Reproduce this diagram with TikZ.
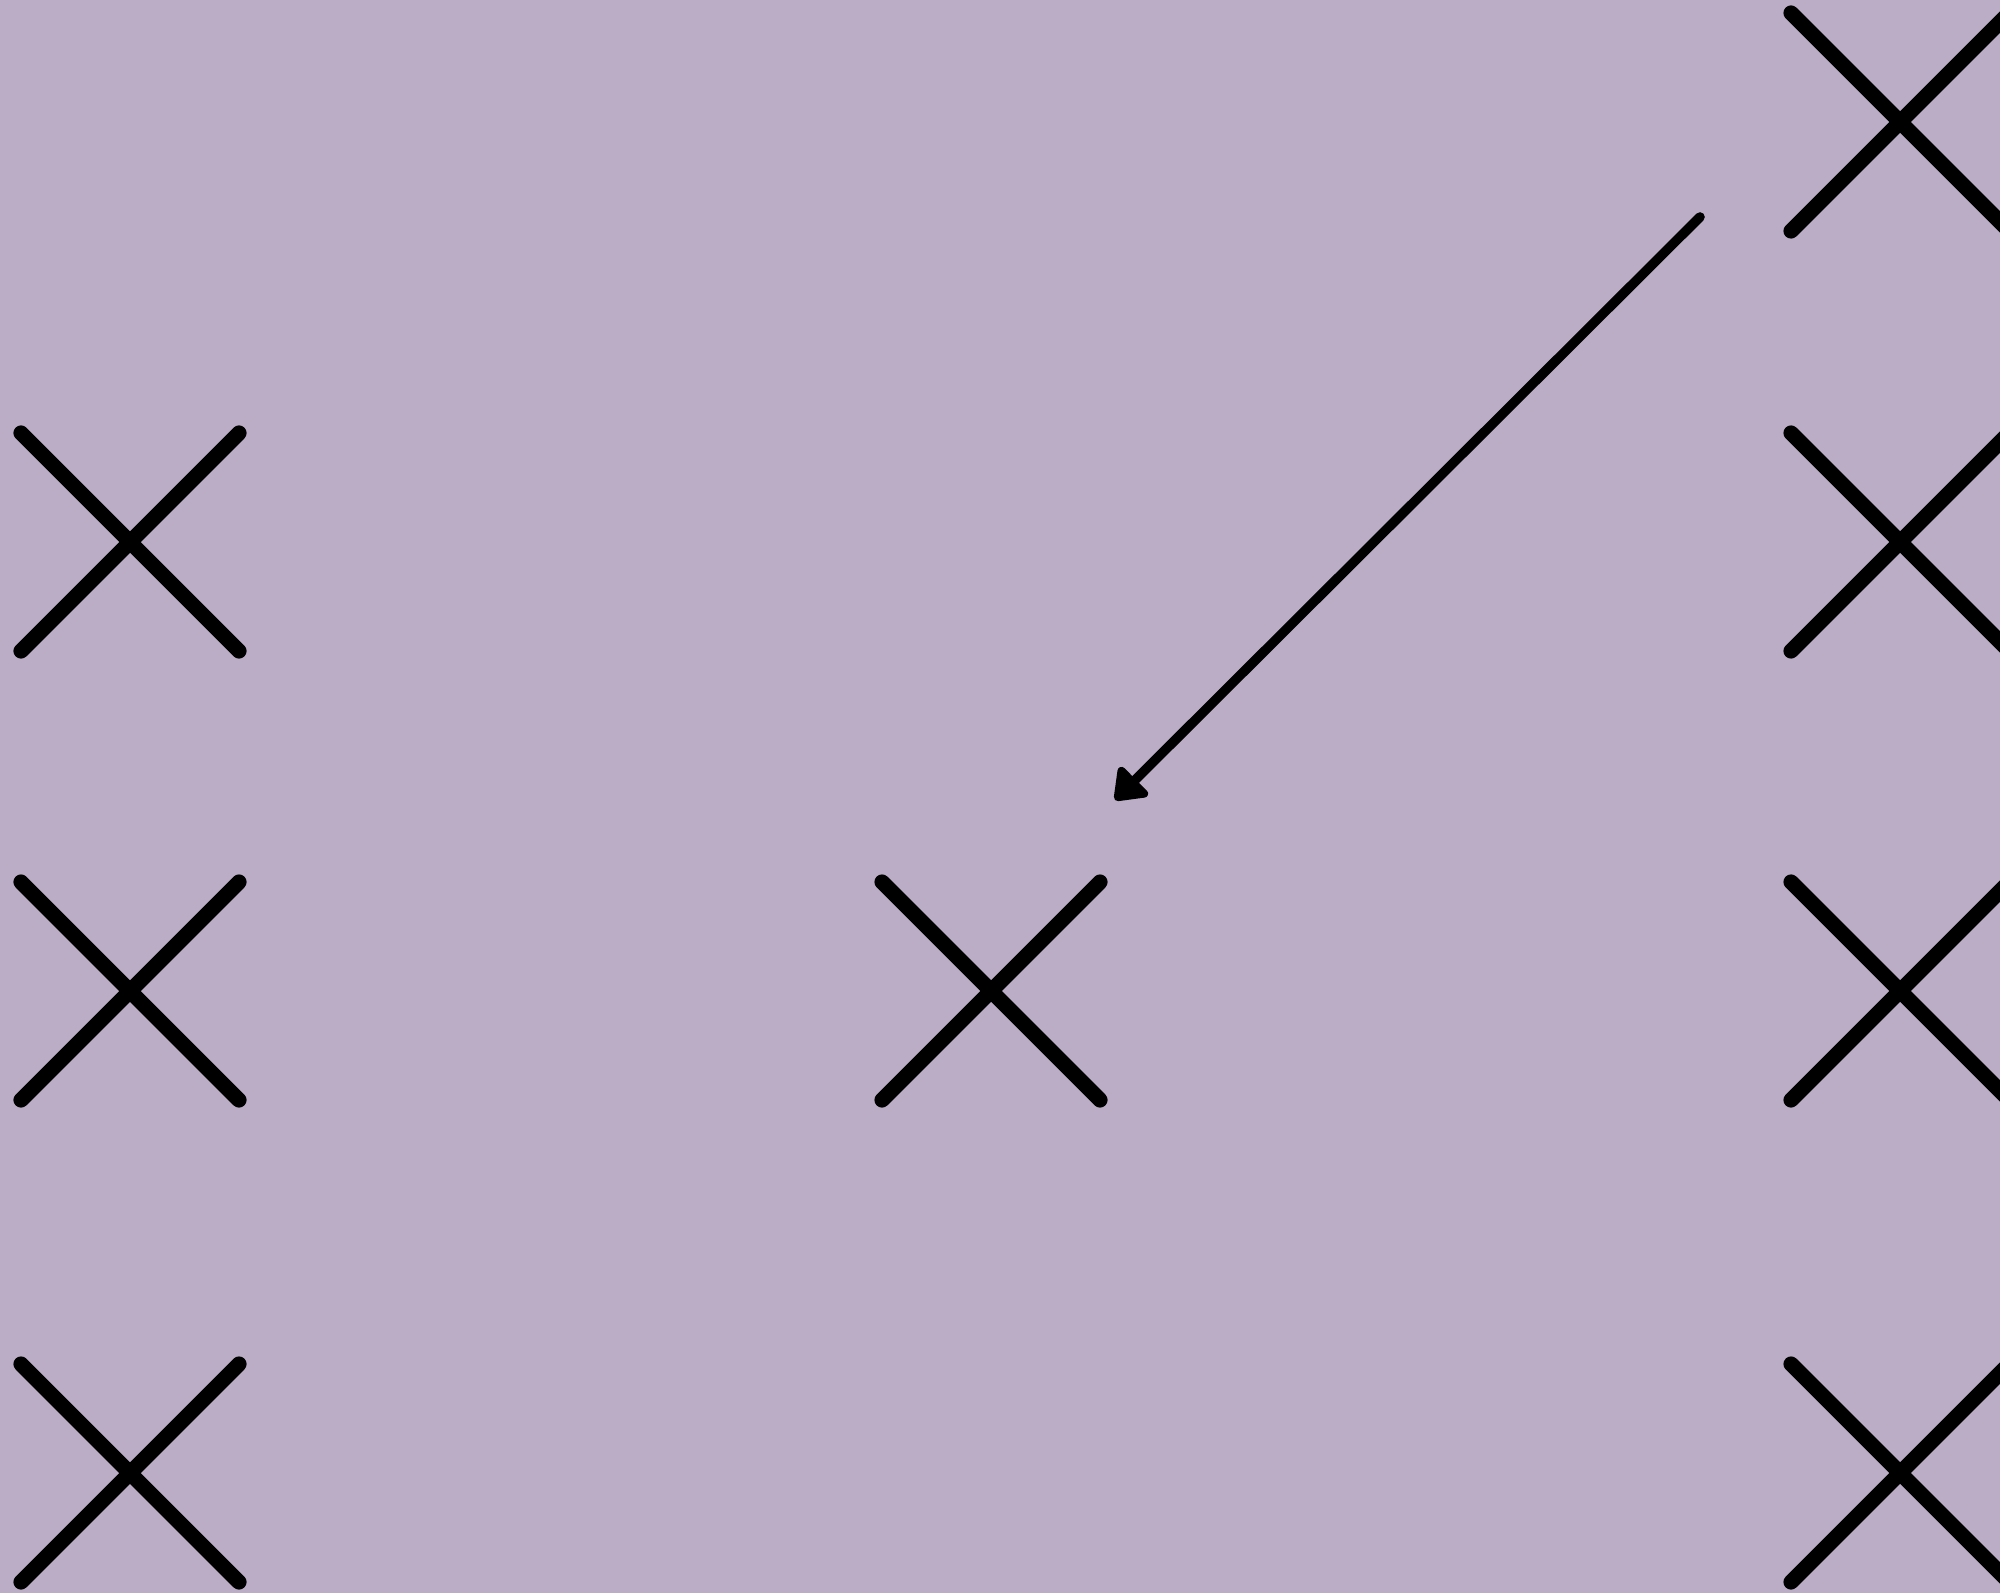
\documentclass[tikz,border=0pt]{standalone}
\usetikzlibrary{arrows.meta,calc}
\definecolor{bgpurple}{RGB}{187,173,198}
\begin{document}
\begin{tikzpicture}[x=0.5pt,y=-0.5pt,
  crossline/.style={line width=7.6pt,line cap=round,black},
  arrowline/.style={line width=4.8pt,line cap=round,black,-{Triangle[round,length=16pt,width=23pt]}}]
\clip (0,0) rectangle (2000,1593);
\fill[bgpurple] (0,0) rectangle (2000,1593);
\foreach \n/\cx/\cy in {l1/130/542,l2/130/991,l3/130/1473,m/991/991,r0/1900/122,r1/1900/542,r2/1900/991,r3/1900/1473}{
  \coordinate (\n) at (\cx,\cy);
  \draw[crossline] ($(\n)+(-109,-109)$) -- ($(\n)+(109,109)$);
  \draw[crossline] ($(\n)+(-109,109)$) -- ($(\n)+(109,-109)$);
}
\coordinate (astart) at (1700,217);
\coordinate (aend) at (1115,800);
\draw[arrowline] (astart) -- (aend);
\end{tikzpicture}
\end{document}
